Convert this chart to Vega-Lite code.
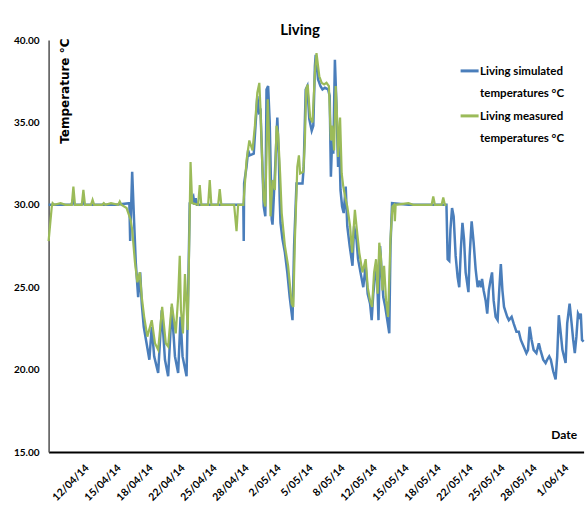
{
"$schema": "https://vega.github.io/schema/vega-lite/v6.json",
"width": 535, "height": 412,
"autosize": {"type": "none"},
"padding": {"left": 48.6, "top": 40, "right": 1.4, "bottom": 61},
"background": "white",
"title": {"text": "Living", "font": "Lato", "fontSize": 15, "fontWeight": "bold", "color": "black", "anchor": "middle", "frame": "group", "baseline": "alphabetic", "offset": 5, "dx": -16, "dy": 20},
"datasets": {
"sim": [
{"date":"2014-04-08T00:00","temp":30.0},{"date":"2014-04-09T12:00","temp":30.0},{"date":"2014-04-10T09:00","temp":30.0},{"date":"2014-04-10T13:00","temp":30.3},{"date":"2014-04-10T17:00","temp":30.0},{"date":"2014-04-11T10:00","temp":30.0},{"date":"2014-04-11T14:00","temp":30.2},{"date":"2014-04-11T18:00","temp":30.0},{"date":"2014-04-13T12:00","temp":30.0},{"date":"2014-04-15T00:00","temp":30.0},{"date":"2014-04-16T10:00","temp":30.1},{"date":"2014-04-16T12:00","temp":27.8},{"date":"2014-04-16T17:00","temp":32.0},{"date":"2014-04-16T22:00","temp":28.9},{"date":"2014-04-17T02:00","temp":26.5},{"date":"2014-04-17T08:00","temp":24.4},{"date":"2014-04-17T13:00","temp":25.9},{"date":"2014-04-17T17:00","temp":24.0},{"date":"2014-04-17T22:00","temp":22.6},{"date":"2014-04-18T05:00","temp":21.6},{"date":"2014-04-18T12:00","temp":20.6},{"date":"2014-04-18T18:00","temp":22.6},{"date":"2014-04-19T00:00","temp":20.8},{"date":"2014-04-19T10:00","temp":19.8},{"date":"2014-04-19T19:00","temp":23.6},{"date":"2014-04-20T03:00","temp":20.6},{"date":"2014-04-20T11:00","temp":19.6},{"date":"2014-04-20T20:00","temp":23.8},{"date":"2014-04-21T04:00","temp":20.8},{"date":"2014-04-21T12:00","temp":19.8},{"date":"2014-04-21T18:00","temp":23.2},{"date":"2014-04-21T23:00","temp":20.8},{"date":"2014-04-22T09:00","temp":19.6},{"date":"2014-04-22T15:00","temp":27.3},{"date":"2014-04-22T17:00","temp":30.1},{"date":"2014-04-23T02:00","temp":30.5},{"date":"2014-04-23T05:00","temp":30.0},{"date":"2014-04-23T08:00","temp":30.4},{"date":"2014-04-23T11:00","temp":30.0},{"date":"2014-04-25T12:00","temp":30.0},{"date":"2014-04-28T07:00","temp":30.0},{"date":"2014-04-28T08:00","temp":27.8},{"date":"2014-04-28T09:00","temp":31.3},{"date":"2014-04-28T15:00","temp":32.3},{"date":"2014-04-28T19:00","temp":33.3},{"date":"2014-04-28T23:00","temp":33.0},{"date":"2014-04-29T09:00","temp":33.1},{"date":"2014-04-29T14:00","temp":35.0},{"date":"2014-04-29T18:00","temp":36.6},{"date":"2014-04-29T22:00","temp":35.6},{"date":"2014-04-30T02:00","temp":35.7},{"date":"2014-04-30T06:00","temp":32.9},{"date":"2014-04-30T10:00","temp":29.9},{"date":"2014-04-30T14:00","temp":29.3},{"date":"2014-04-30T17:00","temp":37.0},{"date":"2014-04-30T21:00","temp":37.2},{"date":"2014-05-01T01:00","temp":35.0},{"date":"2014-05-01T06:00","temp":29.1},{"date":"2014-05-01T08:00","temp":28.8},{"date":"2014-05-01T14:00","temp":31.9},{"date":"2014-05-01T20:00","temp":35.3},{"date":"2014-05-02T00:00","temp":32.7},{"date":"2014-05-02T02:00","temp":30.3},{"date":"2014-05-02T04:00","temp":28.9},{"date":"2014-05-02T09:00","temp":27.9},{"date":"2014-05-02T15:00","temp":27.1},{"date":"2014-05-02T21:00","temp":25.9},{"date":"2014-05-03T03:00","temp":24.4},{"date":"2014-05-03T10:00","temp":23.0},{"date":"2014-05-03T14:00","temp":27.5},{"date":"2014-05-03T20:00","temp":31.3},{"date":"2014-05-04T11:00","temp":31.3},{"date":"2014-05-04T14:00","temp":32.3},{"date":"2014-05-04T19:00","temp":37.0},{"date":"2014-05-04T23:00","temp":37.2},{"date":"2014-05-05T04:00","temp":35.2},{"date":"2014-05-05T10:00","temp":34.5},{"date":"2014-05-05T14:00","temp":34.8},{"date":"2014-05-05T18:00","temp":38.4},{"date":"2014-05-05T20:00","temp":39.1},{"date":"2014-05-06T02:00","temp":37.6},{"date":"2014-05-06T08:00","temp":37.2},{"date":"2014-05-06T13:00","temp":37.0},{"date":"2014-05-06T19:00","temp":37.1},{"date":"2014-05-07T03:00","temp":37.0},{"date":"2014-05-07T07:00","temp":36.6},{"date":"2014-05-07T10:00","temp":31.7},{"date":"2014-05-07T13:00","temp":33.9},{"date":"2014-05-07T16:00","temp":33.1},{"date":"2014-05-07T20:00","temp":38.8},{"date":"2014-05-08T00:00","temp":36.0},{"date":"2014-05-08T04:00","temp":32.3},{"date":"2014-05-08T07:00","temp":33.9},{"date":"2014-05-08T10:00","temp":30.9},{"date":"2014-05-08T14:00","temp":29.9},{"date":"2014-05-08T18:00","temp":29.5},{"date":"2014-05-08T23:00","temp":31.1},{"date":"2014-05-09T03:00","temp":28.7},{"date":"2014-05-09T09:00","temp":27.5},{"date":"2014-05-09T16:00","temp":26.3},{"date":"2014-05-09T20:00","temp":28.7},{"date":"2014-05-10T02:00","temp":27.9},{"date":"2014-05-10T06:00","temp":26.7},{"date":"2014-05-10T12:00","temp":25.9},{"date":"2014-05-10T19:00","temp":25.0},{"date":"2014-05-11T01:00","temp":26.3},{"date":"2014-05-11T06:00","temp":24.6},{"date":"2014-05-11T12:00","temp":24.0},{"date":"2014-05-11T16:00","temp":23.0},{"date":"2014-05-11T20:00","temp":24.6},{"date":"2014-05-12T03:00","temp":26.3},{"date":"2014-05-12T06:00","temp":25.4},{"date":"2014-05-12T09:00","temp":23.0},{"date":"2014-05-12T13:00","temp":27.5},{"date":"2014-05-12T17:00","temp":25.9},{"date":"2014-05-12T21:00","temp":24.4},{"date":"2014-05-13T02:00","temp":23.8},{"date":"2014-05-13T07:00","temp":23.0},{"date":"2014-05-13T12:00","temp":22.2},{"date":"2014-05-13T15:00","temp":27.5},{"date":"2014-05-13T19:00","temp":30.1},{"date":"2014-05-15T12:00","temp":30.0},{"date":"2014-05-17T00:00","temp":30.0},{"date":"2014-05-19T11:00","temp":30.0},{"date":"2014-05-19T14:00","temp":26.7},{"date":"2014-05-19T18:00","temp":26.6},{"date":"2014-05-19T21:00","temp":28.5},{"date":"2014-05-20T01:00","temp":29.8},{"date":"2014-05-20T05:00","temp":29.3},{"date":"2014-05-20T10:00","temp":26.9},{"date":"2014-05-20T15:00","temp":25.6},{"date":"2014-05-20T19:00","temp":25.0},{"date":"2014-05-20T23:00","temp":27.3},{"date":"2014-05-21T03:00","temp":28.9},{"date":"2014-05-21T07:00","temp":27.9},{"date":"2014-05-21T11:00","temp":25.9},{"date":"2014-05-21T18:00","temp":24.7},{"date":"2014-05-21T21:00","temp":26.9},{"date":"2014-05-22T02:00","temp":29.0},{"date":"2014-05-22T07:00","temp":27.7},{"date":"2014-05-22T12:00","temp":26.1},{"date":"2014-05-22T17:00","temp":25.0},{"date":"2014-05-22T20:00","temp":25.4},{"date":"2014-05-23T01:00","temp":25.0},{"date":"2014-05-23T04:00","temp":25.5},{"date":"2014-05-23T08:00","temp":24.8},{"date":"2014-05-23T13:00","temp":24.2},{"date":"2014-05-23T17:00","temp":23.4},{"date":"2014-05-23T21:00","temp":24.8},{"date":"2014-05-24T01:00","temp":25.4},{"date":"2014-05-24T05:00","temp":25.9},{"date":"2014-05-24T09:00","temp":24.2},{"date":"2014-05-24T14:00","temp":23.2},{"date":"2014-05-24T19:00","temp":23.0},{"date":"2014-05-24T23:00","temp":24.8},{"date":"2014-05-25T03:00","temp":26.4},{"date":"2014-05-25T07:00","temp":24.8},{"date":"2014-05-25T11:00","temp":23.8},{"date":"2014-05-25T19:00","temp":23.2},{"date":"2014-05-25T23:00","temp":23.0},{"date":"2014-05-26T06:00","temp":23.2},{"date":"2014-05-26T11:00","temp":22.8},{"date":"2014-05-26T18:00","temp":22.3},{"date":"2014-05-27T00:00","temp":22.3},{"date":"2014-05-27T05:00","temp":21.8},{"date":"2014-05-27T12:00","temp":21.4},{"date":"2014-05-27T19:00","temp":21.0},{"date":"2014-05-27T23:00","temp":21.2},{"date":"2014-05-28T03:00","temp":22.6},{"date":"2014-05-28T08:00","temp":21.8},{"date":"2014-05-28T13:00","temp":21.2},{"date":"2014-05-28T20:00","temp":21.0},{"date":"2014-05-29T02:00","temp":21.6},{"date":"2014-05-29T06:00","temp":21.2},{"date":"2014-05-29T13:00","temp":20.6},{"date":"2014-05-29T19:00","temp":20.4},{"date":"2014-05-29T23:00","temp":20.6},{"date":"2014-05-30T04:00","temp":20.8},{"date":"2014-05-30T08:00","temp":20.6},{"date":"2014-05-30T14:00","temp":19.9},{"date":"2014-05-30T20:00","temp":19.4},{"date":"2014-05-31T00:00","temp":20.8},{"date":"2014-05-31T04:00","temp":23.3},{"date":"2014-05-31T08:00","temp":22.4},{"date":"2014-05-31T13:00","temp":21.2},{"date":"2014-05-31T21:00","temp":20.4},{"date":"2014-06-01T01:00","temp":22.8},{"date":"2014-06-01T07:00","temp":24.0},{"date":"2014-06-01T12:00","temp":22.8},{"date":"2014-06-01T16:00","temp":21.8},{"date":"2014-06-01T20:00","temp":21.0},{"date":"2014-06-02T00:00","temp":22.0},{"date":"2014-06-02T04:00","temp":23.4},{"date":"2014-06-02T08:00","temp":23.2},{"date":"2014-06-02T11:00","temp":23.4},{"date":"2014-06-02T14:00","temp":21.8},{"date":"2014-06-02T18:00","temp":21.7}
],
"meas": [
{"date":"2014-04-08T00:00","temp":27.8},{"date":"2014-04-08T08:00","temp":29.9},{"date":"2014-04-08T10:00","temp":30.1},{"date":"2014-04-08T14:00","temp":30.0},{"date":"2014-04-09T06:00","temp":30.1},{"date":"2014-04-09T18:00","temp":30.0},{"date":"2014-04-10T10:00","temp":30.0},{"date":"2014-04-10T14:00","temp":31.1},{"date":"2014-04-10T18:00","temp":30.0},{"date":"2014-04-11T11:00","temp":30.0},{"date":"2014-04-11T15:00","temp":30.9},{"date":"2014-04-11T19:00","temp":30.0},{"date":"2014-04-12T10:00","temp":30.0},{"date":"2014-04-12T14:00","temp":30.3},{"date":"2014-04-12T18:00","temp":30.0},{"date":"2014-04-13T14:00","temp":30.0},{"date":"2014-04-13T18:00","temp":30.1},{"date":"2014-04-13T22:00","temp":30.0},{"date":"2014-04-14T12:00","temp":30.1},{"date":"2014-04-15T06:00","temp":30.0},{"date":"2014-04-15T10:00","temp":30.2},{"date":"2014-04-15T14:00","temp":30.0},{"date":"2014-04-16T03:00","temp":29.8},{"date":"2014-04-16T13:00","temp":29.1},{"date":"2014-04-16T17:00","temp":28.5},{"date":"2014-04-17T00:00","temp":26.5},{"date":"2014-04-17T06:00","temp":25.3},{"date":"2014-04-17T12:00","temp":25.9},{"date":"2014-04-17T17:00","temp":24.4},{"date":"2014-04-17T23:00","temp":23.2},{"date":"2014-04-18T07:00","temp":22.0},{"date":"2014-04-18T18:00","temp":23.0},{"date":"2014-04-19T02:00","temp":21.6},{"date":"2014-04-19T10:00","temp":21.2},{"date":"2014-04-19T20:00","temp":23.8},{"date":"2014-04-20T05:00","temp":21.6},{"date":"2014-04-20T11:00","temp":21.4},{"date":"2014-04-20T20:00","temp":24.0},{"date":"2014-04-21T06:00","temp":22.2},{"date":"2014-04-21T12:00","temp":24.4},{"date":"2014-04-21T16:00","temp":26.9},{"date":"2014-04-21T19:00","temp":23.6},{"date":"2014-04-22T00:00","temp":22.2},{"date":"2014-04-22T05:00","temp":25.8},{"date":"2014-04-22T12:00","temp":22.4},{"date":"2014-04-22T19:00","temp":32.6},{"date":"2014-04-22T23:00","temp":30.1},{"date":"2014-04-23T14:00","temp":30.0},{"date":"2014-04-23T18:00","temp":31.2},{"date":"2014-04-23T22:00","temp":30.0},{"date":"2014-04-24T15:00","temp":30.0},{"date":"2014-04-24T19:00","temp":31.5},{"date":"2014-04-24T23:00","temp":30.0},{"date":"2014-04-25T16:00","temp":30.0},{"date":"2014-04-25T20:00","temp":30.95},{"date":"2014-04-26T00:00","temp":30.0},{"date":"2014-04-27T08:00","temp":30.0},{"date":"2014-04-27T14:00","temp":28.4},{"date":"2014-04-27T18:00","temp":30.0},{"date":"2014-04-28T07:00","temp":30.0},{"date":"2014-04-28T11:00","temp":31.3},{"date":"2014-04-28T15:00","temp":32.7},{"date":"2014-04-28T22:00","temp":33.9},{"date":"2014-04-29T06:00","temp":33.3},{"date":"2014-04-29T12:00","temp":34.8},{"date":"2014-04-29T18:00","temp":36.8},{"date":"2014-04-29T23:00","temp":37.4},{"date":"2014-04-30T02:00","temp":35.8},{"date":"2014-04-30T06:00","temp":32.7},{"date":"2014-04-30T10:00","temp":30.3},{"date":"2014-04-30T14:00","temp":29.9},{"date":"2014-04-30T20:00","temp":36.4},{"date":"2014-04-30T23:00","temp":34.3},{"date":"2014-05-01T03:00","temp":29.3},{"date":"2014-05-01T08:00","temp":31.5},{"date":"2014-05-01T14:00","temp":30.9},{"date":"2014-05-01T18:00","temp":34.8},{"date":"2014-05-01T22:00","temp":34.3},{"date":"2014-05-02T03:00","temp":31.9},{"date":"2014-05-02T07:00","temp":29.5},{"date":"2014-05-02T15:00","temp":27.5},{"date":"2014-05-02T23:00","temp":26.3},{"date":"2014-05-03T08:00","temp":24.0},{"date":"2014-05-03T12:00","temp":23.8},{"date":"2014-05-03T16:00","temp":27.9},{"date":"2014-05-03T22:00","temp":32.3},{"date":"2014-05-04T02:00","temp":33.0},{"date":"2014-05-04T05:00","temp":31.9},{"date":"2014-05-04T13:00","temp":32.0},{"date":"2014-05-04T17:00","temp":33.9},{"date":"2014-05-04T20:00","temp":37.0},{"date":"2014-05-05T00:00","temp":37.3},{"date":"2014-05-05T06:00","temp":35.3},{"date":"2014-05-05T12:00","temp":35.0},{"date":"2014-05-05T18:00","temp":38.0},{"date":"2014-05-05T22:00","temp":39.2},{"date":"2014-05-06T05:00","temp":37.8},{"date":"2014-05-06T11:00","temp":37.4},{"date":"2014-05-06T17:00","temp":37.3},{"date":"2014-05-06T23:00","temp":37.4},{"date":"2014-05-07T05:00","temp":37.2},{"date":"2014-05-07T10:00","temp":33.9},{"date":"2014-05-07T13:00","temp":34.8},{"date":"2014-05-07T18:00","temp":33.3},{"date":"2014-05-07T22:00","temp":37.2},{"date":"2014-05-08T02:00","temp":35.0},{"date":"2014-05-08T04:00","temp":32.9},{"date":"2014-05-08T09:00","temp":35.3},{"date":"2014-05-08T13:00","temp":31.9},{"date":"2014-05-08T17:00","temp":31.1},{"date":"2014-05-08T23:00","temp":30.3},{"date":"2014-05-09T03:00","temp":29.9},{"date":"2014-05-09T10:00","temp":28.7},{"date":"2014-05-09T15:00","temp":27.1},{"date":"2014-05-09T22:00","temp":29.7},{"date":"2014-05-10T02:00","temp":28.7},{"date":"2014-05-10T09:00","temp":27.1},{"date":"2014-05-10T17:00","temp":25.9},{"date":"2014-05-11T01:00","temp":26.7},{"date":"2014-05-11T06:00","temp":25.0},{"date":"2014-05-11T12:00","temp":24.2},{"date":"2014-05-11T17:00","temp":23.8},{"date":"2014-05-11T22:00","temp":25.9},{"date":"2014-05-12T03:00","temp":26.7},{"date":"2014-05-12T07:00","temp":24.6},{"date":"2014-05-12T11:00","temp":27.7},{"date":"2014-05-12T15:00","temp":26.9},{"date":"2014-05-12T19:00","temp":24.8},{"date":"2014-05-12T23:00","temp":26.3},{"date":"2014-05-13T04:00","temp":24.2},{"date":"2014-05-13T09:00","temp":23.2},{"date":"2014-05-13T15:00","temp":27.9},{"date":"2014-05-13T20:00","temp":29.9},{"date":"2014-05-14T00:00","temp":30.0},{"date":"2014-05-14T02:00","temp":29.0},{"date":"2014-05-14T04:00","temp":30.0},{"date":"2014-05-15T12:00","temp":30.1},{"date":"2014-05-16T00:00","temp":30.0},{"date":"2014-05-17T22:00","temp":30.0},{"date":"2014-05-18T02:00","temp":30.5},{"date":"2014-05-18T06:00","temp":30.0},{"date":"2014-05-18T23:00","temp":30.0},{"date":"2014-05-19T03:00","temp":30.45},{"date":"2014-05-19T07:00","temp":30.0},{"date":"2014-05-19T11:00","temp":30.0}
]
},
"layer": [
{"data": {"name": "sim"}, "transform": [{"calculate": "'Living simulated temperatures °C'", "as": "series"}], "mark": {"type": "line", "strokeWidth": 2.5}, "encoding": {
 "x": {"field": "date", "type": "temporal"},
 "y": {"field": "temp", "type": "quantitative"},
 "color": {"field": "series", "type": "nominal"}}},
{"data": {"name": "meas"}, "transform": [{"calculate": "'Living measured temperatures °C'", "as": "series"}], "mark": {"type": "line", "strokeWidth": 2.2}, "encoding": {
 "x": {"field": "date", "type": "temporal"},
 "y": {"field": "temp", "type": "quantitative"},
 "color": {"field": "series", "type": "nominal"}}}
],
"resolve": {"scale": {"color": "shared"}},
"encoding": {
 "x": {"field": "date", "type": "temporal",
  "scale": {"domain": [{"year": 2014, "month": 4, "date": 8, "hours": 0}, {"year": 2014, "month": 6, "date": 2, "hours": 18}]},
  "axis": {"title": "Date", "titleFont": "Lato", "titleFontSize": 12, "titleFontWeight": "bold", "titleColor": "black", "titleX": 528, "titleY": -14, "titleAlign": "right", "titleBaseline": "alphabetic", "titleAnchor": null,
   "values": [{"year":2014,"month":4,"date":12,"hours":0},{"year":2014,"month":4,"date":15,"hours":8},{"year":2014,"month":4,"date":18,"hours":16},{"year":2014,"month":4,"date":22,"hours":0},{"year":2014,"month":4,"date":25,"hours":8},{"year":2014,"month":4,"date":28,"hours":16},{"year":2014,"month":5,"date":2,"hours":0},{"year":2014,"month":5,"date":5,"hours":8},{"year":2014,"month":5,"date":8,"hours":16},{"year":2014,"month":5,"date":12,"hours":0},{"year":2014,"month":5,"date":15,"hours":8},{"year":2014,"month":5,"date":18,"hours":16},{"year":2014,"month":5,"date":22,"hours":0},{"year":2014,"month":5,"date":25,"hours":8},{"year":2014,"month":5,"date":28,"hours":16},{"year":2014,"month":6,"date":1,"hours":0}],
   "format": "%-d/%m/%y", "labelAngle": -45, "labelAlign": "right", "labelBaseline": "middle", "labelFont": "Lato", "labelFontWeight": "bold", "labelFontSize": 10.5, "labelColor": "black", "labelPadding": 14, "ticks": false, "tickSize": 0, "domainColor": "black", "domainWidth": 2, "grid": false, "labelOverlap": false, "labelFlush": false, "labelBound": false}},
 "y": {"field": "temp", "type": "quantitative",
  "scale": {"domain": [15, 40], "nice": false, "zero": false},
  "axis": {"title": "Temperature °C", "titleFont": "DejaVu Sans", "titleFontSize": 12, "titleFontWeight": "bold", "titleColor": "black", "titleAngle": -90, "titleX": 19.5, "titleY": -2, "titleAlign": "right", "titleBaseline": "alphabetic", "titleAnchor": null,
   "values": [15, 20, 25, 30, 35, 40], "format": ".2f", "labelFont": "Lato", "labelFontWeight": "bold", "labelFontSize": 10, "labelColor": "black", "labelPadding": 9.5, "ticks": false, "tickSize": 0, "domainColor": "#505050", "domainWidth": 1.5, "grid": false}},
 "color": {"field": "series", "type": "nominal",
  "scale": {"domain": ["Living simulated temperatures °C", "Living measured temperatures °C"], "range": ["#4A7EBB", "#9BBB59"]},
  "legend": {"title": null, "orient": "none", "legendX": 410.5, "legendY": 15, "symbolType": "M-1,0.6L1,0.6", "symbolStrokeWidth": 3, "symbolSize": 324, "labelFont": "Lato", "labelFontSize": 11.5, "labelFontWeight": "bold", "labelColor": "black", "labelLimit": 300, "labelOffset": 0, "labelBaseline": "top", "rowPadding": 1,
   "labelExpr": "datum.label == 'Living simulated temperatures °C' ? ['Living simulated', 'temperatures °C'] : ['Living measured', 'temperatures °C']"}}
},
"config": {"view": {"stroke": null}, "style": {"guide-label": {"lineHeight": 22}}}
}
